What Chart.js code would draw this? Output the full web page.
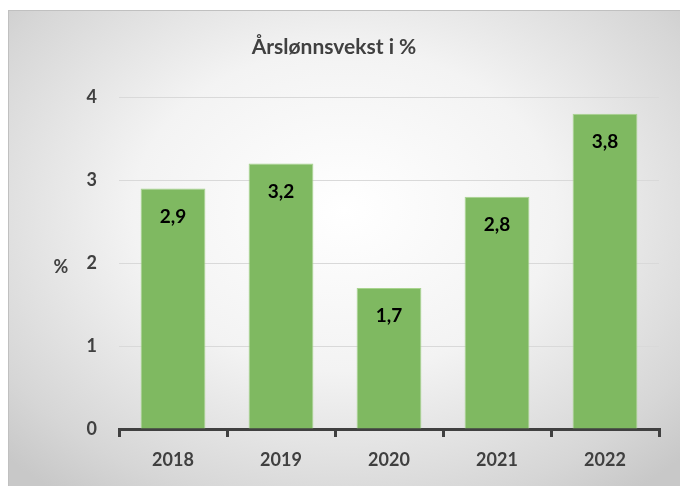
<!DOCTYPE html>
<html>
<head>
<meta charset="utf-8">
<script src="https://cdn.jsdelivr.net/npm/chart.js@4/dist/chart.umd.min.js"></script>
<style>
    body { margin: 0; background: #ffffff; }
    #wrap {
        position: absolute; left: 8px; top: 10px; width: 672px; height: 476px;
        border-top: 1px solid #c0c0c0; border-left: 1px solid #c0c0c0;
        box-sizing: border-box;
        background: radial-gradient(ellipse 70% 75% at 50% 42%, #ffffff 0%, #f3f3f3 45%, #d6d6d6 85%, #c8c8c8 100%);
    }
</style>
</head>
<body>
<div id="wrap"><canvas id="chart" width="671" height="475"></canvas></div>
<script>
const years = ['2018', '2019', '2020', '2021', '2022'];
const growth = [2.9, 3.2, 1.7, 2.8, 3.8];
const yTicks = [0, 1, 2, 3, 4];
const chartTitle = 'Årslønnsvekst i %';
const yLabel = '%';

const FONT = 'Lato, "Open Sans", sans-serif';
const TEXT = '#404040';

// values written inside each bar, near the top
const barLabels = {
    id: 'barLabels',
    afterDatasetsDraw(chart) {
        const ctx = chart.ctx;
        ctx.save();
        ctx.font = 'bold 19px ' + FONT;
        ctx.fillStyle = '#000000';
        ctx.textAlign = 'center';
        ctx.textBaseline = 'middle';
        chart.getDatasetMeta(0).data.forEach((bar, i) => {
            ctx.fillText(String(growth[i]).replace('.', ','), bar.x, bar.y + 28);
        });
        ctx.restore();
    }
};

// horizontal "%" left of the y ticks
const yAxisLabel = {
    id: 'yAxisLabel',
    afterDraw(chart) {
        const ctx = chart.ctx;
        const y = chart.scales.y;
        ctx.save();
        ctx.font = 'bold 18px ' + FONT;
        ctx.fillStyle = TEXT;
        ctx.textAlign = 'center';
        ctx.textBaseline = 'middle';
        ctx.fillText(yLabel, 52, y.getPixelForValue(2) + 4);
        ctx.restore();
    }
};

new Chart(document.getElementById('chart'), {
    type: 'bar',
    data: {
        labels: years,
        datasets: [{
            data: growth,
            backgroundColor: '#7fb961',
            borderColor: '#a8d48e',
            borderWidth: 1,
            categoryPercentage: 0.6,
            barPercentage: 1
        }]
    },
    options: {
        responsive: false,
        animation: false,
        layout: { padding: { top: 7, right: 21, bottom: 12, left: 0 } },
        plugins: {
            legend: { display: false },
            tooltip: { enabled: false },
            title: {
                display: true,
                text: chartTitle,
                color: TEXT,
                font: { family: FONT, size: 21, weight: 'bold' },
                padding: { top: 17, bottom: 37 }
            }
        },
        scales: {
            x: {
                afterFit(scale) { scale.height = 45; },
                border: { display: true, color: TEXT, width: 3 },
                grid: { drawOnChartArea: false, drawTicks: true, tickLength: 8, color: TEXT, lineWidth: 3, offset: true },
                ticks: { color: TEXT, font: { family: FONT, size: 18, weight: 'bold' }, padding: 12 }
            },
            y: {
                min: yTicks[0],
                max: yTicks[yTicks.length - 1],
                afterBuildTicks(scale) { scale.ticks = yTicks.map(v => ({ value: v })); },
                afterFit(scale) { scale.width = 110; },
                border: { display: false },
                grid: { drawTicks: false, color: '#d9d9d9', lineWidth: 1 },
                ticks: { color: TEXT, font: { family: FONT, size: 18, weight: 'bold' }, padding: 22 }
            }
        }
    },
    plugins: [barLabels, yAxisLabel]
});
</script>
</body>
</html>
